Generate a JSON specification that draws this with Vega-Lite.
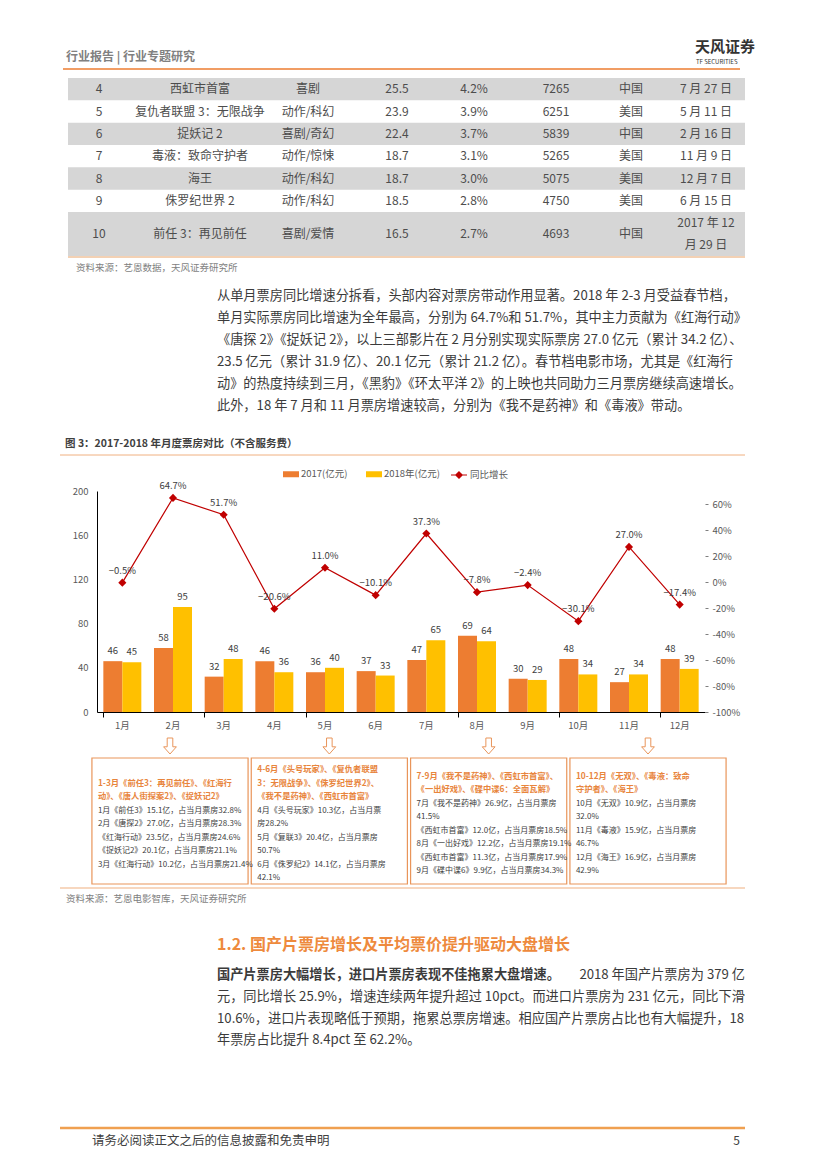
{
"$schema":"https://vega.github.io/schema/vega-lite/v6.json",
"width":827,"height":1169,"autosize":{"type":"none"},"padding":0,"background":"#ffffff",
"config":{"font":"Noto Sans CJK SC","view":{"stroke":null},
 "axis":{"grid":false,"title":null,"labelFont":"Noto Sans CJK SC","labelFontSize":9.5,"labelColor":"#595959"},
 "legend":{"labelFont":"Noto Sans CJK SC","labelFontSize":9.5,"labelColor":"#595959","title":null},
 "text":{"font":"Noto Sans CJK SC"}},
"datasets":{
 "bars":[
  {"m":"1月","s":"2017(亿元)","v":46},{"m":"1月","s":"2018年(亿元)","v":45},
  {"m":"2月","s":"2017(亿元)","v":58},{"m":"2月","s":"2018年(亿元)","v":95},
  {"m":"3月","s":"2017(亿元)","v":32},{"m":"3月","s":"2018年(亿元)","v":48},
  {"m":"4月","s":"2017(亿元)","v":46},{"m":"4月","s":"2018年(亿元)","v":36},
  {"m":"5月","s":"2017(亿元)","v":36},{"m":"5月","s":"2018年(亿元)","v":40},
  {"m":"6月","s":"2017(亿元)","v":37},{"m":"6月","s":"2018年(亿元)","v":33},
  {"m":"7月","s":"2017(亿元)","v":47},{"m":"7月","s":"2018年(亿元)","v":65},
  {"m":"8月","s":"2017(亿元)","v":69},{"m":"8月","s":"2018年(亿元)","v":64},
  {"m":"9月","s":"2017(亿元)","v":30},{"m":"9月","s":"2018年(亿元)","v":29},
  {"m":"10月","s":"2017(亿元)","v":48},{"m":"10月","s":"2018年(亿元)","v":34},
  {"m":"11月","s":"2017(亿元)","v":27},{"m":"11月","s":"2018年(亿元)","v":34},
  {"m":"12月","s":"2017(亿元)","v":48},{"m":"12月","s":"2018年(亿元)","v":39}
 ],
 "yoy":[
  {"m":"1月","r":-0.5},{"m":"2月","r":64.7},{"m":"3月","r":51.7},{"m":"4月","r":-20.6},
  {"m":"5月","r":11.0},{"m":"6月","r":-10.1},{"m":"7月","r":37.3},{"m":"8月","r":-7.8},
  {"m":"9月","r":-2.4},{"m":"10月","r":-30.1},{"m":"11月","r":27.0},{"m":"12月","r":-17.4}
 ],
 "table":[
  {"rank":4,"no":"4","name":"西虹市首富","genre":"喜剧","box":"25.5","share":"4.2%","people":"7265","country":"中国","date":"7 月 27 日"},
  {"rank":5,"no":"5","name":"复仇者联盟 3：无限战争","genre":"动作/科幻","box":"23.9","share":"3.9%","people":"6251","country":"美国","date":"5 月 11 日"},
  {"rank":6,"no":"6","name":"捉妖记 2","genre":"喜剧/奇幻","box":"22.4","share":"3.7%","people":"5839","country":"中国","date":"2 月 16 日"},
  {"rank":7,"no":"7","name":"毒液：致命守护者","genre":"动作/惊悚","box":"18.7","share":"3.1%","people":"5265","country":"美国","date":"11 月 9 日"},
  {"rank":8,"no":"8","name":"海王","genre":"动作/科幻","box":"18.7","share":"3.0%","people":"5075","country":"美国","date":"12 月 7 日"},
  {"rank":9,"no":"9","name":"侏罗纪世界 2","genre":"动作/科幻","box":"18.5","share":"2.8%","people":"4750","country":"美国","date":"6 月 15 日"},
  {"rank":10,"no":"10","name":"前任 3：再见前任","genre":"喜剧/爱情","box":"16.5","share":"2.7%","people":"4693","country":"中国","date":"2017 年 12\n月 29 日"}
 ],
 "p1":[
  {"line":0,"t":"从单月票房同比增速分拆看，头部内容对票房带动作用显著。2018 年 2-3 月受益春节档，"},
  {"line":1,"t":"单月实际票房同比增速为全年最高，分别为  64.7%和 51.7%，其中主力贡献为《红海行动》"},
  {"line":2,"t":"《唐探 2》《捉妖记 2》，以上三部影片在 2 月分别实现实际票房 27.0 亿元（累计 34.2 亿）、"},
  {"line":3,"t":"23.5 亿元（累计 31.9 亿）、20.1 亿元（累计 21.2 亿）。春节档电影市场，尤其是《红海行"},
  {"line":4,"t":"动》的热度持续到三月，《黑豹》《环太平洋 2》的上映也共同助力三月票房继续高速增长。"},
  {"line":5,"t":"此外，18 年 7 月和 11 月票房增速较高，分别为《我不是药神》和《毒液》带动。"}
 ],
 "p2":[
  {"line":1,"t":"元，同比增长 25.9%，增速连续两年提升超过 10pct。而进口片票房为 231 亿元，同比下滑"},
  {"line":2,"t":"10.6%，进口片表现略低于预期，拖累总票房增速。相应国产片票房占比也有大幅提升，18"},
  {"line":3,"t":"年票房占比提升 8.4pct 至 62.2%。"}
 ],
 "boxes":[{"q":1},{"q":2},{"q":3},{"q":4}],
 "boxtext":[
  {"q":1,"row":1,"h":true,"t":"1-3月《前任3：再见前任》、《红海行"},
  {"q":1,"row":2,"h":true,"t":"动》、《唐人街探案2》、《捉妖记2》"},
  {"q":1,"row":3,"h":false,"t":"1月《前任3》15.1亿，占当月票房32.8%"},
  {"q":1,"row":4,"h":false,"t":"2月《唐探2》27.0亿，占当月票房28.3%"},
  {"q":1,"row":5,"h":false,"t":"\u3000\u2002《红海行动》23.5亿，占当月票房24.6%"},
  {"q":1,"row":6,"h":false,"t":"\u3000\u2002《捉妖记2》20.1亿，占当月票房21.1%"},
  {"q":1,"row":7,"h":false,"t":"3月《红海行动》10.2亿，占当月票房21.4%"},
  {"q":2,"row":0,"h":true,"t":"4-6月《头号玩家》、《复仇者联盟"},
  {"q":2,"row":1,"h":true,"t":"3：无限战争》、《侏罗纪世界2》、"},
  {"q":2,"row":2,"h":true,"t":"《我不是药神》、《西虹市首富》"},
  {"q":2,"row":3,"h":false,"t":"4月《头号玩家》10.3亿，占当月票"},
  {"q":2,"row":4,"h":false,"t":"房28.2%"},
  {"q":2,"row":5,"h":false,"t":"5月《复联3》20.4亿，占当月票房"},
  {"q":2,"row":6,"h":false,"t":"50.7%"},
  {"q":2,"row":7,"h":false,"t":"6月《侏罗纪2》14.1亿，占当月票房"},
  {"q":2,"row":8,"h":false,"t":"42.1%"},
  {"q":3,"row":0.5,"h":true,"t":"7-9月《我不是药神》、《西虹市首富》、"},
  {"q":3,"row":1.5,"h":true,"t":"《一出好戏》、《碟中谍6：全面瓦解》"},
  {"q":3,"row":2.5,"h":false,"t":"7月《我不是药神》26.9亿，占当月票房"},
  {"q":3,"row":3.5,"h":false,"t":"41.5%"},
  {"q":3,"row":4.5,"h":false,"t":"\u3000《西虹市首富》12.0亿，占当月票房18.5%"},
  {"q":3,"row":5.5,"h":false,"t":"8月《一出好戏》12.2亿，占当月票房19.1%"},
  {"q":3,"row":6.5,"h":false,"t":"\u3000《西虹市首富》11.3亿，占当月票房17.9%"},
  {"q":3,"row":7.5,"h":false,"t":"9月《碟中谍6》9.9亿，占当月票房34.3%"},
  {"q":4,"row":0.5,"h":true,"t":"10-12月《无双》、《毒液：致命"},
  {"q":4,"row":1.5,"h":true,"t":"守护者》、《海王》"},
  {"q":4,"row":2.5,"h":false,"t":"10月《无双》10.9亿，占当月票房"},
  {"q":4,"row":3.5,"h":false,"t":"32.0%"},
  {"q":4,"row":4.5,"h":false,"t":"11月《毒液》15.9亿，占当月票房"},
  {"q":4,"row":5.5,"h":false,"t":"46.7%"},
  {"q":4,"row":6.5,"h":false,"t":"12月《海王》16.9亿，占当月票房"},
  {"q":4,"row":7.5,"h":false,"t":"42.9%"}
 ]
},
"layer":[
 {"data":{"values":[{"t":"行业报告 | 行业专题研究"}]},"mark":{"type":"text","x":66,"y":57,"align":"left","baseline":"middle","fontSize":12,"fontWeight":"bold","color":"#808080"},"encoding":{"text":{"field":"t"}}},
 {"data":{"values":[{"t":"天风证券"}]},"mark":{"type":"text","x":695,"y":47,"align":"left","baseline":"middle","fontSize":15,"fontWeight":"bold","color":"#333333"},"encoding":{"text":{"field":"t"}}},
 {"data":{"values":[{"t":"TF SECURITIES"}]},"mark":{"type":"text","x":696,"y":62,"align":"left","baseline":"middle","fontSize":6,"color":"#333333"},"encoding":{"text":{"field":"t"}}},
 {"data":{"values":[{}]},"mark":{"type":"rule","color":"#ED7D31","strokeWidth":1.5},"encoding":{"x":{"value":63},"x2":{"value":740},"y":{"value":69}}},

 {"data":{"name":"table"},"transform":[{"filter":"datum.rank % 2 == 0"},{"calculate":"datum.rank - 0.5","as":"lo"},{"calculate":"datum.rank + 0.5","as":"hi"}],
  "mark":{"type":"rect","color":"#D6D6D6"},
  "encoding":{"x":{"value":68},"x2":{"value":745},
   "y":{"field":"lo","type":"quantitative","scale":{"domain":[3.5,9.5,10.5],"range":[78,212,256]},"axis":null},
   "y2":{"field":"hi"}}},
 {"data":{"name":"table"},"transform":[{"fold":["no","name","genre","box","share","people","country","date"],"as":["key","val"]},
   {"filter":"!(datum.rank == 10 && datum.key == 'date')"},
   {"calculate":"indexof(['no','name','genre','box','share','people','country','date'], datum.key)","as":"col"}],
  "mark":{"type":"text","fontSize":12,"color":"#4D4D4D","baseline":"middle"},
  "encoding":{"x":{"field":"col","type":"quantitative","scale":{"domain":[0,1,2,3,4,5,6,7],"range":[99,200,308,397,474,556,631,706]},"axis":null},
   "y":{"field":"rank","type":"quantitative","scale":{"domain":[3.5,9.5,10.5],"range":[78,212,256]},"axis":null},
   "text":{"field":"val","type":"nominal"}}},
 {"data":{"name":"table"},"transform":[{"filter":"datum.rank == 10"}],
  "mark":{"type":"text","fontSize":12,"color":"#4D4D4D","baseline":"middle","lineBreak":"\n","lineHeight":22,"x":706,"dy":-11},
  "encoding":{"y":{"field":"rank","type":"quantitative","scale":{"domain":[3.5,9.5,10.5],"range":[78,212,256]},"axis":null},
   "text":{"field":"date","type":"nominal"}}},
 {"data":{"values":[{}]},"mark":{"type":"rule","color":"#E8A46B","strokeWidth":1.2},"encoding":{"x":{"value":68},"x2":{"value":745},"y":{"value":257}}},
 {"data":{"values":[{"t":"资料来源：艺恩数据，天风证券研究所"}]},"mark":{"type":"text","x":76,"y":268,"align":"left","baseline":"middle","fontSize":9.5,"color":"#7F7F7F"},"encoding":{"text":{"field":"t"}}},

 {"data":{"name":"p1"},"mark":{"type":"text","x":217,"align":"left","baseline":"middle","fontSize":13.2,"color":"#3B3B3B"},
  "encoding":{"y":{"field":"line","type":"quantitative","scale":{"domain":[0,5],"range":[296,406]},"axis":null},"text":{"field":"t"}}},

 {"data":{"values":[{"t":"图 3：2017-2018 年月度票房对比（不含服务费）"}]},"mark":{"type":"text","x":65,"y":444,"align":"left","baseline":"middle","fontSize":10.5,"fontWeight":"bold","color":"#404040"},"encoding":{"text":{"field":"t"}}},
 {"data":{"values":[{}]},"mark":{"type":"rule","color":"#F0B080","strokeWidth":1},"encoding":{"x":{"value":60},"x2":{"value":745},"y":{"value":455}}},

 {"layer":[
   {"data":{"name":"bars"},"layer":[
     {"mark":{"type":"bar"},"encoding":{
       "x":{"field":"m","type":"nominal","sort":null,"scale":{"domain":["1月","2月","3月","4月","5月","6月","7月","8月","9月","10月","11月","12月"],"range":[97,705],"paddingInner":0.25,"paddingOuter":0.125},
            "axis":{"orient":"bottom","offset":-457,"domainColor":"#000000","domainWidth":1,"ticks":false,"labelPadding":8,"labelAngle":0}},
       "xOffset":{"field":"s","type":"nominal","sort":["2017(亿元)","2018年(亿元)"],"scale":{"paddingInner":0}},
       "y":{"field":"v","type":"quantitative","scale":{"domain":[0,200],"range":[712,491],"nice":false},
            "axis":{"orient":"left","offset":-97,"values":[0,40,80,120,160,200],"domainColor":"#000000","domainWidth":1,"ticks":false,"labelPadding":9}},
       "color":{"field":"s","type":"nominal","scale":{"domain":["2017(亿元)","2018年(亿元)"],"range":["#ED7D31","#FFC000"]},
            "legend":{"orient":"none","legendX":283,"legendY":466,"direction":"horizontal","symbolType":"M-1,-0.375H1V0.375H-1Z","symbolSize":256,"symbolStrokeWidth":0,"labelOffset":2,"columnPadding":18}}
     }},
     {"mark":{"type":"text","dy":-10,"fontSize":9.5,"color":"#404040","baseline":"middle"},"encoding":{
       "x":{"field":"m","type":"nominal","sort":null},
       "xOffset":{"field":"s","type":"nominal","sort":["2017(亿元)","2018年(亿元)"]},
       "y":{"field":"v","type":"quantitative"},
       "text":{"field":"v","type":"quantitative"}}}
   ]},
   {"data":{"name":"yoy"},"transform":[{"calculate":"format(datum.r, '.1f') + '%'","as":"lab"}],"layer":[
     {"mark":{"type":"line","strokeWidth":1.2,"point":{"shape":"diamond","size":28,"filled":true,"color":"#C00000"}},"encoding":{
       "x":{"field":"m","type":"nominal","sort":null,
            "axis":{"orient":"bottom","offset":-457,"bandPosition":0,"values":["1月","3月","5月","8月","10月","12月"],"labels":false,"domain":false,"ticks":true,"tickSize":5,"tickColor":"#000000"}},
       "y":{"field":"r","type":"quantitative","scale":{"domain":[-100,70],"range":[712,491],"nice":false,"zero":false},
            "axis":{"orient":"right","offset":-122,"values":[-100,-80,-60,-40,-20,0,20,40,60],"labelExpr":"datum.value + '%'","domain":false,"ticks":true,"tickSize":3,"tickColor":"#7F7F7F","labelPadding":4}},
       "stroke":{"datum":"同比增长","type":"nominal","scale":{"range":["#C00000"]},
            "legend":{"orient":"none","legendX":450,"legendY":466,"symbolType":"M-1,0H1M0,-0.4L0.4,0L0,0.4L-0.4,0Z","symbolSize":256,"symbolStrokeColor":"#C00000","symbolFillColor":"#C00000","symbolStrokeWidth":1.2,"labelOffset":2}}
     }},
     {"mark":{"type":"text","dy":-12,"fontSize":9.5,"color":"#404040","baseline":"middle"},"encoding":{
       "x":{"field":"m","type":"nominal","sort":null},
       "y":{"field":"r","type":"quantitative"},
       "text":{"field":"lab"}}}
   ]}
  ],
  "resolve":{"scale":{"y":"independent"},"axis":{"x":"independent"}}},

 {"data":{"name":"boxes"},"transform":[{"calculate":"datum.q - 0.49","as":"q0"},{"calculate":"datum.q + 0.49","as":"q1"}],
  "mark":{"type":"rect","fill":"transparent","stroke":"#E9955A","strokeWidth":1.2},
  "encoding":{"x":{"field":"q0","type":"quantitative","scale":{"domain":[1,4],"range":[170,648]},"axis":null},
   "x2":{"field":"q1"},
   "y":{"value":758},"y2":{"value":884}}},
 {"data":{"name":"boxes"},"mark":{"type":"point","shape":"M-0.35,-1H0.35V0.1H0.8L0,1L-0.8,0.1H-0.35Z","filled":false,"stroke":"#E9955A","strokeWidth":1,"size":256,"opacity":1},
  "encoding":{"x":{"field":"q","type":"quantitative","scale":{"domain":[1,4],"range":[170,648]},"axis":null},
   "y":{"value":746}}},
 {"data":{"name":"boxtext"},"transform":[{"filter":"datum.h"},{"calculate":"datum.q - 0.49","as":"q0"}],"mark":{"type":"text","align":"left","baseline":"middle","fontSize":8.3,"fontWeight":"bold","color":"#E8853D","dx":6},
  "encoding":{"x":{"field":"q0","type":"quantitative","scale":{"domain":[1,4],"range":[170,648]},"axis":null},
   "y":{"field":"row","type":"quantitative","scale":{"domain":[0,8],"range":[770,878]},"axis":null},
   "text":{"field":"t"}}},
 {"data":{"name":"boxtext"},"transform":[{"filter":"!datum.h"},{"calculate":"datum.q - 0.49","as":"q0"}],"mark":{"type":"text","align":"left","baseline":"middle","fontSize":8,"color":"#404040","dx":6},
  "encoding":{"x":{"field":"q0","type":"quantitative","scale":{"domain":[1,4],"range":[170,648]},"axis":null},
   "y":{"field":"row","type":"quantitative","scale":{"domain":[0,8],"range":[770,878]},"axis":null},
   "text":{"field":"t"}}},

 {"data":{"values":[{}]},"mark":{"type":"rule","color":"#F0B080","strokeWidth":1.2},"encoding":{"x":{"value":60},"x2":{"value":745},"y":{"value":888}}},
 {"data":{"values":[{"t":"资料来源：艺恩电影智库，天风证券研究所"}]},"mark":{"type":"text","x":66,"y":899,"align":"left","baseline":"middle","fontSize":9.5,"color":"#7F7F7F"},"encoding":{"text":{"field":"t"}}},

 {"data":{"values":[{"t":"1.2. 国产片票房增长及平均票价提升驱动大盘增长"}]},"mark":{"type":"text","x":217,"y":945,"align":"left","baseline":"middle","fontSize":16,"fontWeight":"bold","color":"#EE8A3D"},"encoding":{"text":{"field":"t"}}},
 {"data":{"values":[{"t":"国产片票房大幅增长，进口片票房表现不佳拖累大盘增速。"}]},"mark":{"type":"text","x":217,"y":975,"align":"left","baseline":"middle","fontSize":13.2,"fontWeight":"bold","color":"#3B3B3B"},"encoding":{"text":{"field":"t"}}},
 {"data":{"values":[{"t":"2018 年国产片票房为 379 亿"}]},"mark":{"type":"text","x":745,"y":975,"align":"right","baseline":"middle","fontSize":13.2,"color":"#3B3B3B"},"encoding":{"text":{"field":"t"}}},
 {"data":{"name":"p2"},"mark":{"type":"text","x":217,"align":"left","baseline":"middle","fontSize":13.2,"color":"#3B3B3B"},
  "encoding":{"y":{"field":"line","type":"quantitative","scale":{"domain":[1,3],"range":[997,1040]},"axis":null},"text":{"field":"t"}}},

 {"data":{"values":[{}]},"mark":{"type":"rule","color":"#F0A050","strokeWidth":2.5},"encoding":{"x":{"value":60},"x2":{"value":745},"y":{"value":1128}}},
 {"data":{"values":[{"t":"请务必阅读正文之后的信息披露和免责申明"}]},"mark":{"type":"text","x":92,"y":1141,"align":"left","baseline":"middle","fontSize":12.5,"color":"#404040"},"encoding":{"text":{"field":"t"}}},
 {"data":{"values":[{"t":"5"}]},"mark":{"type":"text","x":740,"y":1141,"align":"right","baseline":"middle","fontSize":12,"color":"#404040"},"encoding":{"text":{"field":"t"}}}
],
"resolve":{"scale":{"x":"independent","y":"independent","color":"independent","stroke":"independent"},"axis":{"x":"independent","y":"independent"},"legend":{"color":"independent","stroke":"independent"}}
}
